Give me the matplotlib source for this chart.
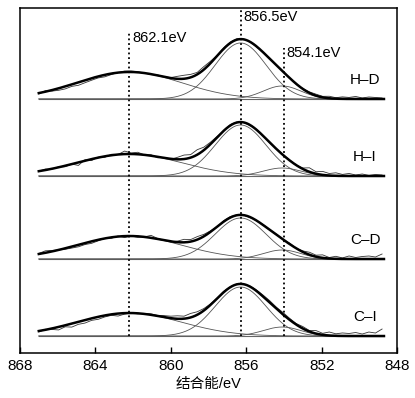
import numpy as np
import matplotlib
matplotlib.use('Agg')
import matplotlib.pyplot as plt

plt.rcParams['font.family'] = ['Liberation Sans', 'Noto Sans CJK SC', 'DejaVu Sans']

# 样品名称及各谱线基线偏移
samples = ['H–D', 'H–I', 'C–D', 'C–I']
offsets = [254, 177, 94, 17]

# 拟合峰位 (eV) 与宽度
centers = [862.2, 856.3, 854.1]
sigmas = [2.75, 1.35, 1.0]
# 各样品三个分峰的峰高
heights = {
    'H–D': [27, 56, 13],
    'H–I': [22, 51, 8],
    'C–D': [23, 41, 9],
    'C–I': [23, 49, 9],
}

# 原始数据相对拟合包络的偏差 (867.0 -> 848.8 eV, 步长 0.35 eV)
residuals = {
    'H–D': [-1, 1, -1, -2, -2.5, -2, -3, -2.5, -2, -1.5, -2, -1, 0, 1, 1, 0.5, 0, -0.5,
            0.5, 0, 0.5, 2.5, 3.5, 3, 2, 3, 2, 0.5, 1, 1, 1, 0.5, 0, -0.5, 0, 0.5, 0,
            0.5, 0, -0.5, 0.5, 1, 1.5, 1, 2, 1, 2, 1.5, 2.5, 1, 2, 1.5, 1],
    'H–I': [0, 1, -0.5, 0.5, -1, 0, -3, 1, -1.5, 0.5, -1, 1, 0, 3, 1, 2, 0, 1,
            -1, 0.5, -0.5, 2, 4, 3, 5, 3, 2, 1, 0, 1, 0.5, 0, -0.5, 0.5, 0, -0.5, 0,
            0.5, 0.5, 0, 1, 4, 2, 3.5, 2, 3, 1.5, 2.5, 1, 2, 0.5, 1.5, 1],
    'C–D': [0.5, 2, 1, 0, -1, -1.5, -2, -1.5, -2, -1, 0, -1, 0.5, -1.5, 0, -1, 0, 2.5,
            0.5, 0, -0.5, 1, 3, 2, 3, 2, 1, 0, 1, 1, 0.5, 0, -0.5, 0, 0.5, 0, 0.5,
            0, 1, 0, 1, 2.5, 1.5, 3, 1, 2.5, 1, 3, 1.5, 2.5, 3, 2, 5],
    'C–I': [-1, 0.5, -1, -3, -1.5, -3.5, -2.5, -3, -2, -2.5, -1.5, -1, -2.5, -1, 0, -0.5, 0.5, 1,
            0.5, 1.5, 2, 3, 2.5, 4, 3, 2, 1, 0.5, 1, 0.5, 0.5, 0, 0.5, 1, 1.5, 2, 1.5,
            2, 1.5, 1, 2, 1, 3, 1.5, 3.5, 2, 3, 2.5, 3.5, 2, 4, 3, 7],
}

# 标注的峰位线
marks = [862.2, 856.3, 854.0]
mark_labels = ['862.1eV', '856.5eV', '854.1eV']


def gauss(x, c, h, s):
    return h * np.exp(-(x - c) ** 2 / (2 * s ** 2))


fig = plt.figure(figsize=(4.15, 3.98), dpi=100)
ax = fig.add_axes([0.048, 0.113, 0.909, 0.867])

xf = np.linspace(867.0, 848.7, 400)
xr = np.linspace(867.0, 848.8, 53)

for name, off in zip(samples, offsets):
    h = heights[name]
    comps = [gauss(xf, c, hh, s) for c, hh, s in zip(centers, h, sigmas)]
    env = sum(comps)
    ax.plot(xf, np.full_like(xf, off), color='#666666', lw=0.8)
    for comp in comps:
        ax.plot(xf, comp + off, color='#555555', lw=0.6)
    env_r = sum(gauss(xr, c, hh, s) for c, hh, s in zip(centers, h, sigmas))
    ax.plot(xr, env_r + np.array(residuals[name]) + off, color='#333333', lw=0.6)
    ax.plot(xf, env + off, color='black', lw=1.8)
    ax.text(849.7, off + 19, name, fontsize=11, ha='center', va='center')

# 峰位虚线及标注
tops = [320, 343, 305]
label_y = [315, 336, 300]
for m, lab, t, ly in zip(marks, mark_labels, tops, label_y):
    ax.plot([m, m], [17, t], color='black', lw=1.3, linestyle=(0, (1, 1.6)))
    ax.text(m - 0.15, ly, lab, fontsize=10.5, ha='left', va='center')

ax.set_xlim(868, 848)
ax.set_ylim(0, 345)
ax.set_xticks([868, 864, 860, 856, 852, 848])
ax.set_yticks([])
ax.tick_params(axis='x', direction='in', length=4, width=1, labelsize=11, pad=4)
for sp in ax.spines.values():
    sp.set_linewidth(1.1)
ax.set_xlabel('结合能/eV', fontsize=10.5, labelpad=3)

fig.savefig('out.png', dpi=100)
